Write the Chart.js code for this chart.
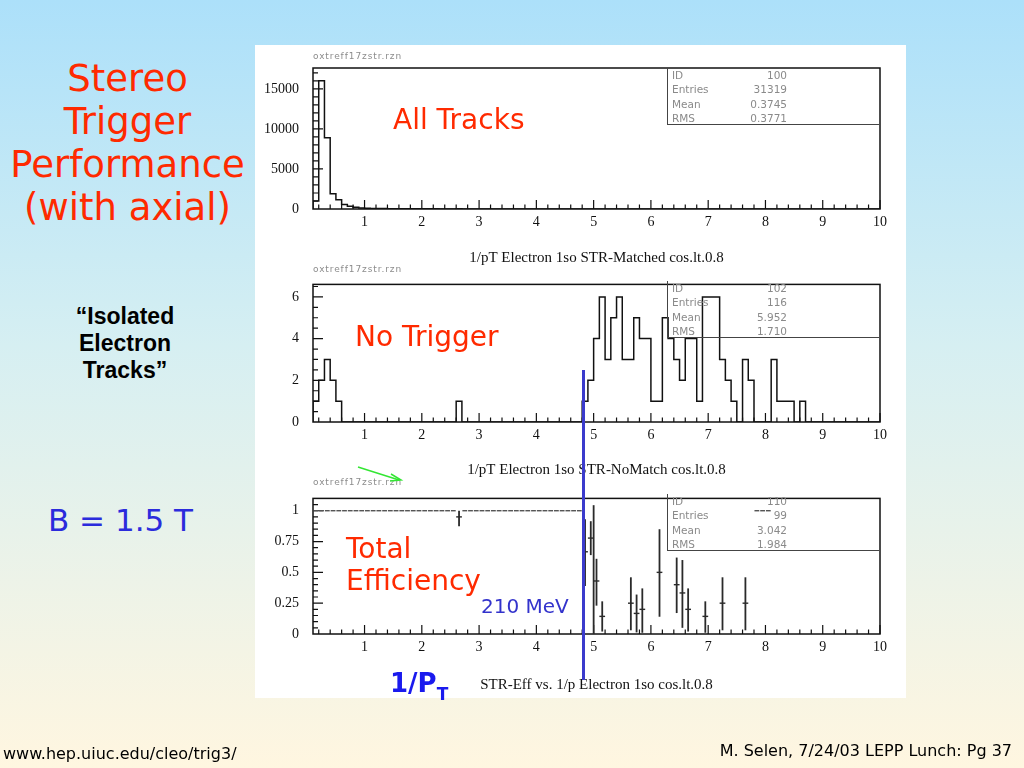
<!DOCTYPE html>
<html>
<head>
<meta charset="utf-8">
<script src="https://cdn.jsdelivr.net/npm/chart.js@4.4.1/dist/chart.umd.min.js"></script>
<style>
  html, body { margin: 0; padding: 0; }
  body {
    width: 1024px; height: 768px; position: relative; overflow: hidden;
    background: linear-gradient(to bottom, #ace0fa 0%, #d6eff2 45%, #fff6e0 100%);
    font-family: "DejaVu Sans", sans-serif;
  }
  .abs { position: absolute; white-space: nowrap; }
  #panel { position: absolute; left: 255px; top: 45px; width: 651px; height: 653px; background: #fff; }
  canvas { position: absolute; left: 255px; }
  .red { color: #ff2a00; }
  .rzn { left: 313px; font-size: 9px; color: #8c8c8c; letter-spacing: 0.9px; }
  .stats {
    position: absolute; left: 667px; width: 212px; height: 57px; box-sizing: border-box;
    border-left: 1px solid #444; border-bottom: 1px solid #444;
    font-family: "DejaVu Sans", sans-serif; font-size: 10.5px; color: #8a8a8a;
  }
  .stats div { position: relative; height: 14.3px; line-height: 14.3px; }
  .stats .k { position: absolute; left: 4px; }
  .stats .v { position: absolute; right: 92px; }
</style>
</head>
<body>
<div id="panel"></div>

<canvas id="top-chart" width="651" height="222" style="top:45px"></canvas>
<canvas id="mid-chart" width="651" height="217" style="top:262px"></canvas>
<canvas id="eff-chart" width="651" height="218" style="top:476px"></canvas>

<div class="abs rzn" style="top:51px">oxtreff17zstr.rzn</div>
<div class="abs rzn" style="top:264px">oxtreff17zstr.rzn</div>
<div class="abs rzn" style="top:477px">oxtreff17zstr.rzn</div>

<div class="stats" style="top:68px">
  <div><span class="k">ID</span><span class="v">100</span></div>
  <div><span class="k">Entries</span><span class="v">31319</span></div>
  <div><span class="k">Mean</span><span class="v">0.3745</span></div>
  <div><span class="k">RMS</span><span class="v">0.3771</span></div>
</div>
<div class="stats" style="top:281px">
  <div><span class="k">ID</span><span class="v">102</span></div>
  <div><span class="k">Entries</span><span class="v">116</span></div>
  <div><span class="k">Mean</span><span class="v">5.952</span></div>
  <div><span class="k">RMS</span><span class="v">1.710</span></div>
</div>
<div class="stats" style="top:494px">
  <div><span class="k">ID</span><span class="v">110</span></div>
  <div><span class="k">Entries</span><span class="v">99</span></div>
  <div><span class="k">Mean</span><span class="v">3.042</span></div>
  <div><span class="k">RMS</span><span class="v">1.984</span></div>
</div>

<div class="abs red" style="left:0;width:255px;top:57px;text-align:center;font-size:37px;line-height:43px">Stereo<br>Trigger<br>Performance<br>(with axial)</div>
<div class="abs" style="left:0;width:250px;top:303px;text-align:center;font-family:'Liberation Sans';font-weight:bold;font-size:23px;line-height:27px;color:#000">“Isolated<br>Electron<br>Tracks”</div>
<div class="abs" style="left:48px;top:502px;font-size:31px;color:#2b2bdc">B = 1.5 T</div>

<div class="abs red" style="left:393px;top:103px;font-size:28px">All Tracks</div>
<div class="abs red" style="left:355px;top:320px;font-size:28px">No Trigger</div>
<div class="abs red" style="left:346px;top:533px;font-size:28px;line-height:32px">Total<br>Efficiency</div>
<div class="abs" style="left:481px;top:594px;font-size:20px;color:#3333cc">210 MeV</div>
<div class="abs" style="left:390px;top:668px;font-size:26px;font-weight:bold;color:#1a1aee">1/P<span style="font-size:17px;position:relative;top:8px">T</span></div>

<div class="abs" style="left:582px;top:370px;width:3px;height:310px;background:#3b3bcc"></div>
<svg class="abs" style="left:0;top:0" width="1024" height="768">
  <line x1="358" y1="467" x2="399" y2="480" stroke="#33e633" stroke-width="1.5"/>
  <polyline points="391,474 401,480 390,481" fill="none" stroke="#33e633" stroke-width="1.5"/>
</svg>

<div class="abs" style="left:3px;top:744px;font-size:16px;color:#000">www.hep.uiuc.edu/cleo/trig3/</div>
<div class="abs" style="right:12px;top:741px;font-size:16px;color:#000">M. Selen, 7/24/03 LEPP Lunch: Pg 37</div>

<script>
// histogram binning: 99 bins of 0.1 from 0.1 to 10
const X_LO = 0.1;
const X_HI = 10;
const BIN = 0.1;
const xTicks = [1, 2, 3, 4, 5, 6, 7, 8, 9, 10];

// 1/pT Electron 1so STR-Matched cos.lt.0.8 (ID 100)
const matchedCounts = [
  1000, 16000, 8900, 1900, 1150, 550, 340, 210, 140, 95,
  72, 58, 47, 40, 34, 30, 26, 23, 21, 19,
  17, 16, 15, 14, 13, 19, 12, 11, 10, 10,
  9, 9, 8, 8, 7, 7, 6, 6, 6, 5,
  5, 5, 4, 4, 4, 3, 3, 2, 7, 3,
  1, 0, 0, 0, 0, 1, 1, 1, 0, 0,
  1, 0, 0, 2, 1, 1, 0, 0, 1, 0,
  0, 1, 0, 0, 0, 1, 0, 1, 1, 1,
  0, 0, 0, 0, 0, 0, 0, 0, 0, 0,
  0, 0, 0, 0, 0, 0, 0, 0, 0
];

// 1/pT Electron 1so STR-NoMatch cos.lt.0.8 (ID 102)
const noMatchCounts = [
  1, 2, 3, 2, 1, 0, 0, 0, 0, 0,
  0, 0, 0, 0, 0, 0, 0, 0, 0, 0,
  0, 0, 0, 0, 0, 1, 0, 0, 0, 0,
  0, 0, 0, 0, 0, 0, 0, 0, 0, 0,
  0, 0, 0, 0, 0, 0, 0, 1, 2, 4,
  6, 3, 5, 6, 3, 3, 5, 4, 4, 1,
  1, 5, 4, 3, 2, 4, 4, 1, 6, 6,
  6, 3, 2, 1, 0, 3, 2, 0, 0, 0,
  3, 1, 1, 1, 0, 1, 0, 0, 0, 0,
  0, 0, 0, 0, 0, 0, 0, 0, 0
];

// STR-Eff vs. 1/p (ID 110): bins at full efficiency
const effOneX = [
  0.15, 0.25, 0.35, 0.45, 0.55, 0.65, 0.75, 0.85, 0.95, 1.05,
  1.15, 1.25, 1.35, 1.45, 1.55, 1.65, 1.75, 1.85, 1.95, 2.05,
  2.15, 2.25, 2.35, 2.45, 2.55, 2.75, 2.85, 2.95, 3.05, 3.15,
  3.25, 3.35, 3.45, 3.55, 3.65, 3.75, 3.85, 3.95, 4.05, 4.15,
  4.25, 4.35, 4.45, 4.55, 4.65, 4.75, 7.85, 7.95, 8.05
];
const effOneY = [
  1, 1, 1, 1, 1, 1, 1, 1, 1, 1,
  1, 1, 1, 1, 1, 1, 1, 1, 1, 1,
  1, 1, 1, 1, 1, 1, 1, 1, 1, 1,
  1, 1, 1, 1, 1, 1, 1, 1, 1, 1,
  1, 1, 1, 1, 1, 1, 1, 1, 1
];
// bins with error bars
const errX  = [2.65, 4.85, 4.95, 5.0, 5.05, 5.15, 5.65, 5.75, 5.85, 6.15, 6.45, 6.55, 6.65, 6.95, 7.25, 7.65];
const errY  = [0.95, 0.667, 0.778, null, 0.43, 0.143, 0.25, 0.167, 0.2, 0.5, 0.4, 0.333, 0.2, 0.143, 0.25, 0.25];
const errLo = [0.875, 0.39, 0.64, 0, 0.23, 0.02, 0.03, 0.013, 0.01, 0.14, 0.17, 0.05, 0.02, 0.01, 0.03, 0.03];
const errHi = [1.0, 0.93, 0.915, 1.045, 0.61, 0.265, 0.46, 0.32, 0.37, 0.85, 0.62, 0.6, 0.37, 0.265, 0.46, 0.46];

const topYTicks = [0, 5000, 10000, 15000];
const midYTicks = [0, 2, 4, 6];
const effYTicks = [0, 0.25, 0.5, 0.75, 1];

function histPoints(counts) {
  const pts = [{ x: X_LO, y: 0 }];
  counts.forEach((c, i) => pts.push({ x: X_LO + i * BIN, y: c }));
  pts.push({ x: X_HI, y: 0 });
  return pts;
}

// PAW style frame with ticks pointing into the plot
const pawAxes = {
  id: "pawAxes",
  afterDatasetsDraw(chart, args, opts) {
    const { ctx, chartArea: a, scales } = chart;
    const x = scales.x;
    const y = scales.y;
    ctx.save();
    ctx.strokeStyle = "#111";
    ctx.lineWidth = 1.2;
    ctx.beginPath();
    for (let k = 1; k <= 50; k++) {
      const px = x.getPixelForValue(k * 0.2);
      const len = k % 5 === 0 ? 9 : 4.5;
      ctx.moveTo(px, a.bottom);
      ctx.lineTo(px, a.bottom - len);
    }
    const n = Math.round(y.max / opts.yMinor);
    const every = Math.round(opts.yMajor / opts.yMinor);
    for (let k = 1; k <= n; k++) {
      const py = y.getPixelForValue(k * opts.yMinor);
      if (py < a.top + 1) continue;
      const len = k % every === 0 ? 10 : 5;
      ctx.moveTo(a.left, py);
      ctx.lineTo(a.left + len, py);
    }
    ctx.stroke();
    ctx.lineWidth = 1.5;
    ctx.strokeRect(a.left, a.top, a.right - a.left, a.bottom - a.top);
    ctx.restore();
  },
};

// error bars with a horizontal bar over the bin
const errorBars = {
  id: "errorBars",
  afterDatasetsDraw(chart) {
    const { ctx, scales } = chart;
    const x = scales.x;
    const y = scales.y;
    ctx.save();
    chart.data.datasets.forEach((ds) => {
      if (!ds.errorBars) return;
      ctx.strokeStyle = ds.barColor;
      ds.data.forEach((d) => {
        const px = x.getPixelForValue(d.x);
        if (d.lo !== undefined) {
          ctx.lineWidth = 1.8;
          ctx.beginPath();
          ctx.moveTo(px, y.getPixelForValue(d.lo));
          ctx.lineTo(px, y.getPixelForValue(d.hi));
          ctx.stroke();
        }
        if (d.y !== null) {
          const py = y.getPixelForValue(d.y);
          ctx.lineWidth = 1.4;
          ctx.beginPath();
          ctx.moveTo(x.getPixelForValue(d.x - ds.halfWidth), py);
          ctx.lineTo(x.getPixelForValue(d.x + ds.halfWidth), py);
          ctx.stroke();
        }
      });
    });
    ctx.restore();
  },
};

const serif = { family: "Liberation Serif", size: 14 };

function makeOptions(yMax, yTicks, padTop, xHeight, title, paw) {
  return {
    responsive: false,
    animation: false,
    layout: { padding: { top: padTop, right: 26, left: 0, bottom: 0 } },
    plugins: {
      legend: { display: false },
      tooltip: { enabled: false },
      pawAxes: paw,
    },
    scales: {
      x: {
        type: "linear",
        min: X_LO,
        max: X_HI,
        afterBuildTicks: (s) => { s.ticks = xTicks.map((v) => ({ value: v })); },
        afterFit: (s) => { s.height = xHeight; },
        grid: { display: false, drawTicks: false },
        border: { display: false },
        ticks: { padding: 5, color: "#111", font: serif, maxRotation: 0, autoSkip: false, callback: (v) => String(v) },
        title: { display: true, text: title, color: "#111", font: { family: "Liberation Serif", size: 15 }, padding: 0 },
      },
      y: {
        min: 0,
        max: yMax,
        afterBuildTicks: (s) => { s.ticks = yTicks.map((v) => ({ value: v })); },
        afterFit: (s) => { s.width = 58; },
        grid: { display: false, drawTicks: false },
        border: { display: false },
        ticks: { padding: 14, color: "#111", font: serif, autoSkip: false, callback: (v) => String(v) },
      },
    },
  };
}

function histDataset(counts) {
  return {
    data: histPoints(counts),
    stepped: "before",
    borderColor: "#111",
    borderWidth: 1.5,
    pointRadius: 0,
    fill: false,
  };
}

new Chart(document.getElementById("top-chart"), {
  type: "line",
  data: { datasets: [histDataset(matchedCounts)] },
  options: makeOptions(17600, topYTicks, 23, 58, "1/pT Electron 1so STR-Matched cos.lt.0.8", { yMajor: 5000, yMinor: 1000 }),
  plugins: [pawAxes],
});

new Chart(document.getElementById("mid-chart"), {
  type: "line",
  data: { datasets: [histDataset(noMatchCounts)] },
  options: makeOptions(6.6, midYTicks, 19, 57, "1/pT Electron 1so STR-NoMatch cos.lt.0.8", { yMajor: 2, yMinor: 0.5 }),
  plugins: [pawAxes],
});

new Chart(document.getElementById("eff-chart"), {
  type: "scatter",
  data: {
    datasets: [
      {
        data: effOneX.map((x, i) => ({ x: x, y: effOneY[i] })),
        pointRadius: 0,
        errorBars: true,
        halfWidth: 0.042,
        barColor: "#555",
      },
      {
        data: errX.map((x, i) => ({ x: x, y: errY[i], lo: errLo[i], hi: errHi[i] })),
        pointRadius: 0,
        errorBars: true,
        halfWidth: 0.05,
        barColor: "#2a2a2a",
      },
    ],
  },
  options: makeOptions(1.1, effYTicks, 18, 60, "STR-Eff vs. 1/p Electron 1so cos.lt.0.8", { yMajor: 0.25, yMinor: 0.05 }),
  plugins: [pawAxes, errorBars],
});
</script>
</body>
</html>
